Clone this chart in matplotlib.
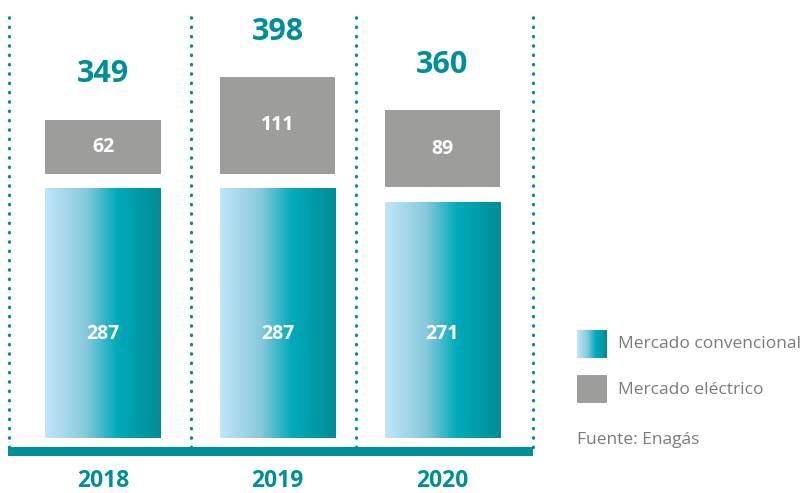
import numpy as np
import matplotlib.pyplot as plt
from matplotlib.colors import LinearSegmentedColormap

plt.rcParams['font.family'] = ['Open Sans', 'DejaVu Sans']

years = ['2018', '2019', '2020']
convencional = [287, 287, 271]
electrico = [62, 111, 89]
totales = [349, 398, 360]

teal = '#008e99'
gray = '#9d9d9c'
cmap = LinearSegmentedColormap.from_list(
    'conv', [(0, '#c2e5f8'), (0.35, '#88c9dc'), (0.62, '#00abbb'), (1, '#008c97')])
grad = np.linspace(0, 1, 256).reshape(1, -1)

W, H = 806, 493
fig = plt.figure(figsize=(W / 100, H / 100), dpi=100)
ax = fig.add_axes([0, 0, 1, 1])

# pixel scales
px_x, x0 = 168, 103
px_y, y0 = 0.87, 55
width = 0.685
gap = 17
xpos = [0, 1.04, 2.02]

for i, (c, e, t) in enumerate(zip(convencional, electrico, totales)):
    x = xpos[i]
    ax.imshow(grad, cmap=cmap, extent=[x - width / 2, x + width / 2, 0, c],
              aspect='auto', zorder=2)
    ax.bar(x, e, width, bottom=c + gap, color=gray, zorder=2)
    ax.text(x, 120, str(c), ha='center', va='center', color='white',
            fontsize=14, fontweight='bold', zorder=3)
    ax.text(x, c + gap + e / 2, str(e), ha='center', va='center', color='white',
            fontsize=14, fontweight='bold', zorder=3)
    ax.text(x, c + gap + e + 52, str(t), ha='center', va='center', color=teal,
            fontsize=22, fontweight='bold')
    ax.text(x, -49, years[i], ha='center', va='center', color=teal,
            fontsize=16.5, fontweight='bold')

# baseline
ax.fill_between([-0.565, 2.56], -21, -10.5, color=teal, lw=0, zorder=2)

# dotted separators
for xv in [-0.56, 0.524, 1.506, 2.56]:
    ax.plot([xv, xv], [-10, 484], color=teal, lw=2.4, linestyle=(0, (0.1, 2.7)),
            dash_capstyle='round')

ax.set_xlim(-x0 / px_x, (W - x0) / px_x)
ax.set_ylim(-y0 / px_y, (H - y0) / px_y)
ax.axis('off')

# legend
sw1 = fig.add_axes([577 / W, 135 / H, 30 / W, 28 / H])
sw1.imshow(grad, cmap=cmap, aspect='auto')
sw1.axis('off')
sw2 = fig.add_axes([577 / W, 90 / H, 30 / W, 28 / H])
sw2.add_patch(plt.Rectangle((0, 0), 1, 1, color=gray))
sw2.axis('off')

fig.text(618 / W, (H - 344) / H, 'Mercado convencional', va='center',
         color='#7a7a7a', fontsize=12.5)
fig.text(618 / W, (H - 390) / H, 'Mercado eléctrico', va='center',
         color='#7a7a7a', fontsize=12.5)
fig.text(577 / W, (H - 440) / H, 'Fuente: Enagás', va='center',
         color='#7a7a7a', fontsize=12.5)

fig.savefig('out.png', dpi=100)
